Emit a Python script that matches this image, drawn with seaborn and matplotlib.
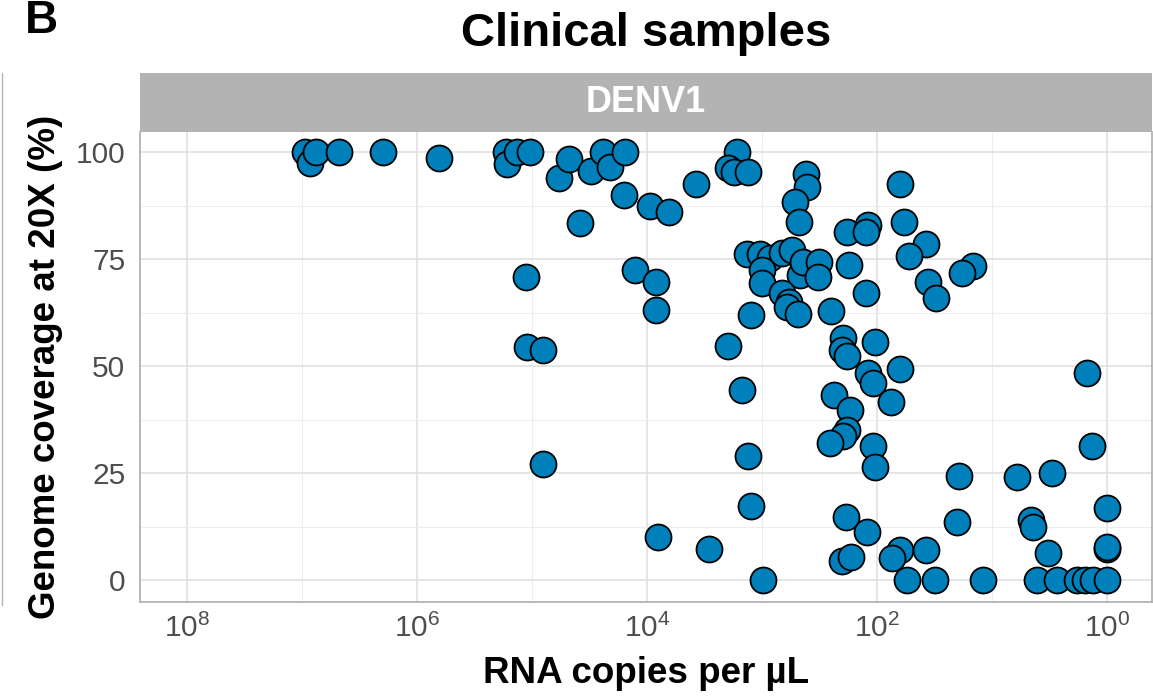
import numpy as np
import pandas as pd
import matplotlib
matplotlib.use("Agg")
import matplotlib.pyplot as plt
import matplotlib.ticker as mticker
from matplotlib.lines import Line2D
import seaborn as sns

# ---------------- data ----------------
copies = [
    9.4e6, 8.5e6, 7.6e6, 4.8e6, 2.0e6, 6.4e5, 1.7e5, 1.65e5, 1.35e5, 1.04e5,
    5.9e4, 4.8e4, 3.07e4, 2.4e4, 2.1e4, 1.55e4, 3.8e4, 1.13e5, 1.1e5, 8.0e4,
    8.0e4, 1.6e4, 9.4e3, 6.4e3, 3.75e3, 1.65e3, 1.98e3, 1.75e3, 1.32e3, 414,
    406, 516, 477, 182, 120, 125, 63, 59, 37.5, 52.7,
    175, 14.6, 18.2, 36, 30.7, 125, 251, 104, 198, 202,
    1.35e3, 1.04e3, 851, 670, 548, 1.0e3, 1.0e3, 467, 440, 319,
    326, 670, 582, 606, 486, 1.25e3, 1.27e4, 8.35e3, 8.35e3, 2.0e3,
    1.49e3, 1.32e3, 1.25e3, 8.0e3, 2.9e3, 980, 182, 237, 172, 182,
    198, 256, 186, 202, 168, 63, 120, 108, 75.5, 108,
    104, 19.4, 6.06, 3.0, 1.49, 1.35, 1.0, 122, 20.2, 4.58,
    4.4, 3.26, 1.0, 1.0, 63, 74, 37.5, 54.8, 31.3, 12,
    4.06, 2.72, 1.82, 1.55, 1.32, 1.0,
]
coverage = [
    100, 97.4, 100, 100, 100, 98.6, 100, 97.2, 100, 100,
    93.9, 98.4, 95.6, 100, 96.5, 100, 83.4, 70.8, 54.4, 53.7,
    27.1, 90.0, 87.4, 86.0, 92.5, 100, 96.3, 95.3, 95.3, 94.9,
    91.8, 88.3, 83.7, 81.3, 83.0, 81.3, 92.5, 83.6, 78.5, 75.7,
    73.6, 73.4, 71.7, 69.6, 65.9, 67.1, 62.9, 55.6, 56.5, 53.7,
    76.2, 76.2, 75.2, 76.4, 77.1, 72.4, 69.4, 71.3, 74.3, 74.3,
    70.8, 67.1, 65.0, 63.8, 62.1, 61.9, 72.4, 69.6, 63.1, 54.7,
    44.4, 29.0, 17.3, 10.0, 7.2, 0, 52.3, 43.2, 39.7, 35.0,
    33.6, 32.0, 14.7, 4.4, 5.4, 49.3, 48.4, 46.0, 41.6, 31.3,
    26.4, 24.3, 24.1, 25.0, 48.4, 31.3, 16.8, 11.2, 13.6, 14.0,
    12.4, 6.3, 7.2, 7.7, 7.0, 5.1, 7.0, 0, 0, 0,
    0, 0, 0, 0, 0, 0,
]
serotype = "DENV1"
x_major = [1e8, 1e6, 1e4, 1e2, 1e0]
x_minor = [1e7, 1e5, 1e3, 1e1]
y_major = [0, 25, 50, 75, 100]
y_minor = [12.5, 37.5, 62.5, 87.5]

df = pd.DataFrame({"copies": copies, "coverage": coverage, "serotype": serotype})

# ---------------- style ----------------
sns.set_style("white")
plt.rcParams["font.family"] = ["Liberation Sans", "DejaVu Sans"]
plt.rcParams["text.color"] = "black"
plt.rcParams["axes.labelcolor"] = "black"
plt.rcParams["mathtext.fontset"] = "custom"
plt.rcParams["mathtext.rm"] = "Liberation Sans"
plt.rcParams["mathtext.it"] = "Liberation Sans:italic"
plt.rcParams["mathtext.bf"] = "Liberation Sans:bold"

W, H = 1153, 700
fig = plt.figure(figsize=(W / 100, H / 100), dpi=100)

px_l, px_r, px_t, px_b = 140, 1152, 132, 602
ax = fig.add_axes([px_l / W, 1 - px_b / H, (px_r - px_l) / W, (px_b - px_t) / H])

sns.scatterplot(data=df, x="copies", y="coverage", ax=ax, s=350,
                color="#0080BA", edgecolor="black", linewidth=1.3,
                alpha=1, zorder=3, legend=False)

ax.set_xscale("log")
ax.set_xlim(10 ** 8.41, 10 ** -0.39)
ax.set_ylim(-5.1, 104.7)

ax.xaxis.set_major_locator(mticker.FixedLocator(x_major))
ax.xaxis.set_minor_locator(mticker.FixedLocator(x_minor))
ax.xaxis.set_major_formatter(mticker.FuncFormatter(
    lambda v, p: r"$\mathregular{10^{%d}}$" % int(round(np.log10(v)))))
ax.xaxis.set_minor_formatter(mticker.NullFormatter())
ax.yaxis.set_major_locator(mticker.FixedLocator(y_major))
ax.yaxis.set_minor_locator(mticker.FixedLocator(y_minor))

ax.grid(which="major", color="#DEDEDE", linewidth=1.1, zorder=0)
ax.grid(which="minor", color="#EDEDED", linewidth=0.8, zorder=0)
ax.set_axisbelow(True)

for s in ax.spines.values():
    s.set_color("#B3B3B3")
    s.set_linewidth(1.3)
ax.spines["top"].set_visible(False)

ax.tick_params(axis="both", which="major", length=4.5, width=1, color="#B3B3B3",
               labelcolor="#4D4D4D", labelsize=21.5)
ax.tick_params(axis="y", which="major", pad=6)
ax.tick_params(axis="x", which="major", pad=4)
ax.tick_params(axis="both", which="minor", length=0)

ax.set_xlabel("RNA copies per µL", fontsize=26.5, fontweight="bold", labelpad=9)
ax.set_ylabel("Genome coverage at 20X (%)", fontsize=26.5, fontweight="bold", labelpad=9)

# facet strip
strip_t = 73
sax = fig.add_axes([px_l / W, 1 - px_t / H, (px_r - px_l) / W, (px_t - strip_t) / H])
sax.set_facecolor("#B3B3B3")
sax.set_xticks([])
sax.set_yticks([])
for s in sax.spines.values():
    s.set_visible(False)
sax.text(0.5, 0.5, serotype, ha="center", va="center", color="white",
         fontsize=26, fontweight="bold", transform=sax.transAxes)

# title & panel tag
fig.text((px_l + px_r) / 2 / W, 1 - 34 / H, "Clinical samples", ha="center", va="center",
         fontsize=34, fontweight="bold")
fig.text(25 / W, 1 - 21 / H, "B", ha="left", va="center", fontsize=33, fontweight="bold")

# thin rule at far left
fig.add_artist(Line2D([1.5 / W, 1.5 / W], [1 - 73 / H, 1 - 605 / H],
                      transform=fig.transFigure, color="#B3B3B3", linewidth=1.0))

fig.savefig("out.png", dpi=100)
